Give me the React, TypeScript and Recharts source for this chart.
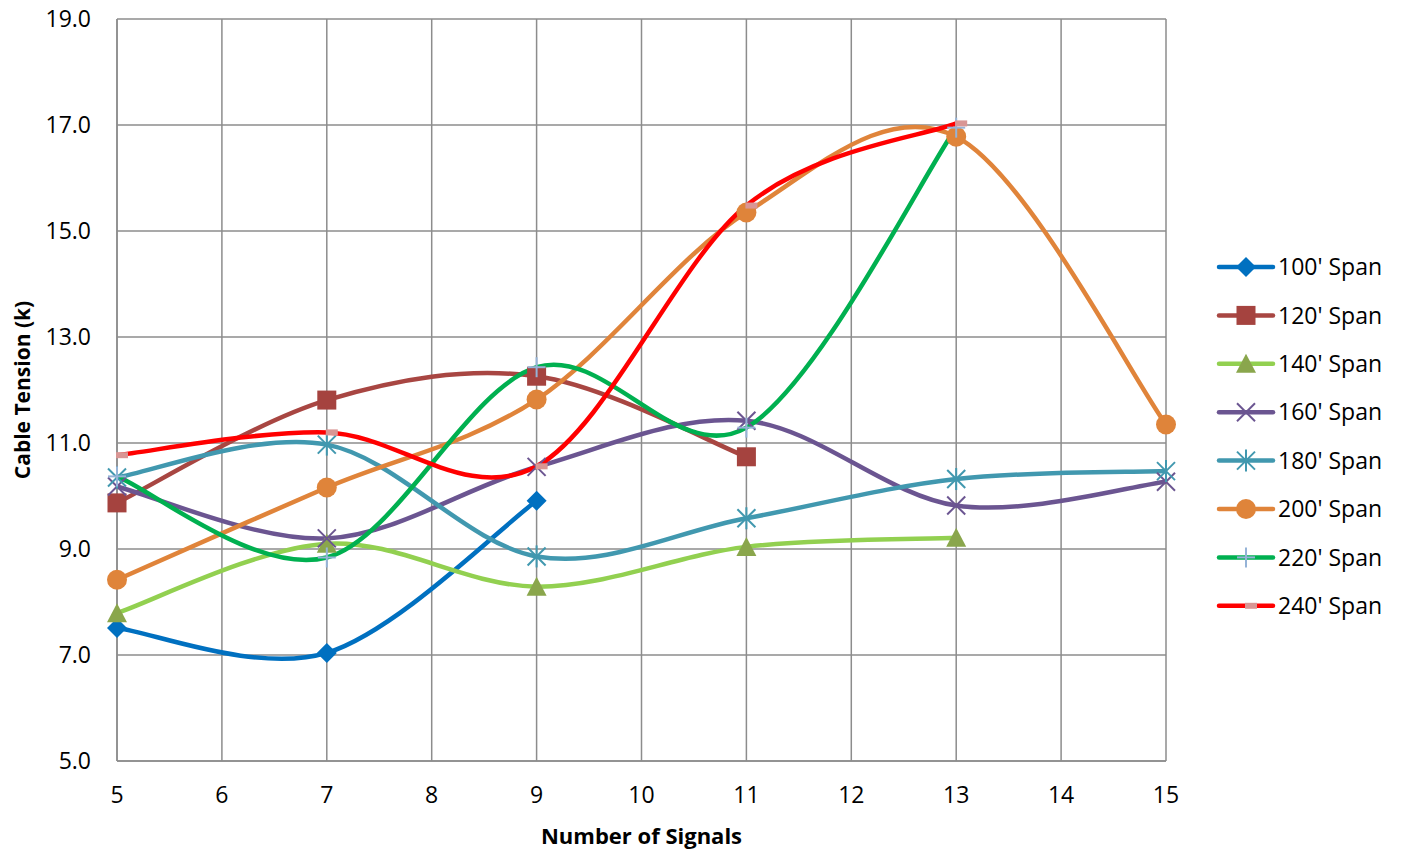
import React from 'react';
import { LineChart, Line, XAxis, YAxis, CartesianGrid, Legend } from 'recharts';

// ---- data ----
const xTicks = [5, 6, 7, 8, 9, 10, 11, 12, 13, 14, 15];
const yTicks = [5, 7, 9, 11, 13, 15, 17, 19];

const x100 = [5, 7, 9];
const y100 = [7.51, 7.04, 9.91];
const x120 = [5, 7, 9, 11];
const y120 = [9.87, 11.81, 12.26, 10.74];
const x140 = [5, 7, 9, 11, 13];
const y140 = [7.79, 9.1, 8.29, 9.04, 9.21];
const x160 = [5, 7, 9, 11, 13, 15];
const y160 = [10.18, 9.2, 10.55, 11.42, 9.82, 10.27];
const x180 = [5, 7, 9, 11, 13, 15];
const y180 = [10.35, 10.97, 8.86, 9.58, 10.32, 10.47];
const x200 = [5, 7, 9, 11, 13, 15];
const y200 = [8.42, 10.16, 11.82, 15.35, 16.78, 11.35];
const x220 = [5, 7, 9, 11, 13];
const y220 = [10.37, 8.84, 12.43, 11.29, 16.95];
const x240 = [5, 7, 9, 11, 13];
const y240 = [10.77, 11.2, 10.56, 15.48, 17.03];

const zip = (xs: number[], ys: number[]) => xs.map((x, i) => ({ x, y: ys[i] }));

type Shape = 'diamond' | 'square' | 'triangle' | 'x' | 'star' | 'circle' | 'plus' | 'dash';

const series: { name: string; data: { x: number; y: number }[]; line: string; marker: string; shape: Shape }[] = [
  { name: "100' Span", data: zip(x100, y100), line: '#0070C0', marker: '#0070C0', shape: 'diamond' },
  { name: "120' Span", data: zip(x120, y120), line: '#A84642', marker: '#A5433F', shape: 'square' },
  { name: "140' Span", data: zip(x140, y140), line: '#92D050', marker: '#8AA64C', shape: 'triangle' },
  { name: "160' Span", data: zip(x160, y160), line: '#6B5591', marker: '#6B5591', shape: 'x' },
  { name: "180' Span", data: zip(x180, y180), line: '#4198AF', marker: '#4198AF', shape: 'star' },
  { name: "200' Span", data: zip(x200, y200), line: '#E0843A', marker: '#DF843A', shape: 'circle' },
  { name: "220' Span", data: zip(x220, y220), line: '#00B050', marker: '#95B3D7', shape: 'plus' },
  { name: "240' Span", data: zip(x240, y240), line: '#FF0000', marker: '#D99694', shape: 'dash' },
];

// Excel-like smoothing (uniform Catmull-Rom as cubic Bezier)
const excelCurve = (context: any) => {
  let pts: number[][] = [];
  return {
    areaStart() {},
    areaEnd() {},
    lineStart() {
      pts = [];
    },
    point(x: number, y: number) {
      pts.push([+x, +y]);
    },
    lineEnd() {
      const n = pts.length;
      if (!n) return;
      context.moveTo(pts[0][0], pts[0][1]);
      for (let i = 0; i < n - 1; i++) {
        const p0 = pts[Math.max(i - 1, 0)];
        const p1 = pts[i];
        const p2 = pts[i + 1];
        const p3 = pts[Math.min(i + 2, n - 1)];
        context.bezierCurveTo(
          p1[0] + (p2[0] - p0[0]) / 6,
          p1[1] + (p2[1] - p0[1]) / 6,
          p2[0] - (p3[0] - p1[0]) / 6,
          p2[1] - (p3[1] - p1[1]) / 6,
          p2[0],
          p2[1]
        );
      }
    },
  };
};

const Marker = ({ shape, cx, cy, color }: { shape: Shape; cx: number; cy: number; color: string }) => {
  switch (shape) {
    case 'diamond':
      return <polygon points={`${cx},${cy - 10} ${cx + 10},${cy} ${cx},${cy + 10} ${cx - 10},${cy}`} fill={color} />;
    case 'square':
      return <rect x={cx - 9.5} y={cy - 9.5} width={19} height={19} fill={color} />;
    case 'triangle':
      return <polygon points={`${cx},${cy - 10} ${cx + 10},${cy + 9} ${cx - 10},${cy + 9}`} fill={color} />;
    case 'x':
      return (
        <g stroke={color} strokeWidth={2}>
          <line x1={cx - 9} y1={cy - 9} x2={cx + 9} y2={cy + 9} />
          <line x1={cx - 9} y1={cy + 9} x2={cx + 9} y2={cy - 9} />
        </g>
      );
    case 'star':
      return (
        <g stroke={color} strokeWidth={2}>
          <line x1={cx - 9} y1={cy - 9} x2={cx + 9} y2={cy + 9} />
          <line x1={cx - 9} y1={cy + 9} x2={cx + 9} y2={cy - 9} />
          <line x1={cx} y1={cy - 11} x2={cx} y2={cy + 11} />
        </g>
      );
    case 'circle':
      return <circle cx={cx} cy={cy} r={10} fill={color} />;
    case 'plus':
      return (
        <g stroke={color} strokeWidth={2}>
          <line x1={cx - 9} y1={cy} x2={cx + 9} y2={cy} />
          <line x1={cx} y1={cy - 10} x2={cx} y2={cy + 10} />
        </g>
      );
    case 'dash':
      return <rect x={cx - 1} y={cy - 3} width={12} height={6} fill={color} />;
  }
  return null;
};

const FONT = '"Open Sans", sans-serif';

const LegendContent = () => (
  <svg width={190} height={390} style={{ display: 'block' }}>
    {series.map((s, i) => {
      const cy = 24 + i * 48.4;
      return (
        <g key={s.name}>
          <line x1={8} y1={cy} x2={62} y2={cy} stroke={s.line} strokeWidth={4.5} strokeLinecap="round" />
          <Marker shape={s.shape} cx={35} cy={cy} color={s.marker} />
          <text x={67} y={cy} dy="0.36em" fontSize={23} fontFamily={FONT} fill="#000">
            {s.name}
          </text>
        </g>
      );
    })}
  </svg>
);

export default function App() {
  return (
    <div style={{ position: 'absolute', left: 0, top: 0, background: '#fff' }}>
      <LineChart width={1404} height={852} margin={{ top: 19, right: 48, bottom: 0, left: 0 }}>
        <CartesianGrid stroke="#8C8C8C" strokeWidth={1.5} />
        <XAxis
          type="number"
          dataKey="x"
          domain={[5, 15]}
          ticks={xTicks}
          interval={0}
          height={91}
          tickLine={false}
          tickSize={0}
          tickMargin={26}
          axisLine={{ stroke: '#8C8C8C', strokeWidth: 1.5 }}
          tick={{ fill: '#000', fontSize: 23, fontFamily: FONT }}
          label={{
            content: ({ viewBox }: any) => (
              <text
                x={viewBox.x + viewBox.width / 2}
                y={836}
                dy="0.36em"
                textAnchor="middle"
                fontSize={22}
                fontWeight="bold"
                fontFamily={FONT}
                fill="#000"
              >
                Number of Signals
              </text>
            ),
          }}
        />
        <YAxis
          type="number"
          domain={[5, 19]}
          ticks={yTicks}
          interval={0}
          width={117}
          tickLine={false}
          tickSize={0}
          tickMargin={26}
          axisLine={{ stroke: '#8C8C8C', strokeWidth: 1.5 }}
          tickFormatter={(v: number) => v.toFixed(1)}
          tick={{ fill: '#000', fontSize: 23, fontFamily: FONT }}
          label={{
            content: ({ viewBox }: any) => {
              const cy = viewBox.y + viewBox.height / 2;
              return (
                <text
                  x={22}
                  y={cy}
                  dy="0.36em"
                  textAnchor="middle"
                  transform={`rotate(-90 22 ${cy})`}
                  fontSize={21}
                  fontWeight="bold"
                  fontFamily={FONT}
                  fill="#000"
                >
                  Cable Tension (k)
                </text>
              );
            },
          }}
        />
        <Legend
          layout="vertical"
          align="right"
          verticalAlign="middle"
          content={() => <LegendContent />}
          wrapperStyle={{ position: 'absolute', left: 1211, top: 243, width: 190, right: 'auto' }}
        />
        {series.map((s) => (
          <Line
            key={s.name}
            name={s.name}
            data={s.data}
            dataKey="y"
            type={excelCurve as any}
            stroke={s.line}
            strokeWidth={4.5}
            isAnimationActive={false}
            activeDot={false}
            dot={(p: any) => (
              <Marker key={`${s.name}-${p.index}`} shape={s.shape} cx={p.cx} cy={p.cy} color={s.marker} />
            )}
          />
        ))}
      </LineChart>
    </div>
  );
}
